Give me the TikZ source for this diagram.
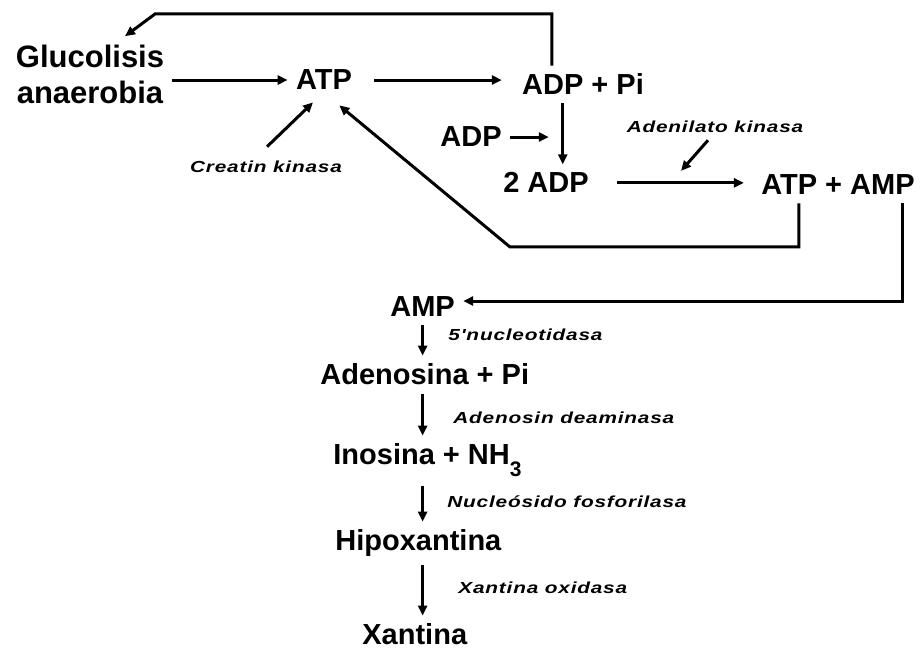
\documentclass[tikz,border=0pt]{standalone}
\usepackage{fontspec}
\setmainfont{Liberation Sans}
\newfontfamily\enzfont[LetterSpace=5,FakeStretch=1.3]{Liberation Sans}
\usetikzlibrary{arrows.meta,calc,positioning}
\tikzset{
  every picture/.style={draw=black, text=black},
  met/.style={font=\bfseries\fontsize{14.5}{17}\selectfont, inner sep=4pt},
  enz/.style={font=\enzfont\bfseries\itshape\fontsize{8}{10}\selectfont, inner sep=2pt},
  arr/.style={line width=1.5pt, -{Triangle[length=5pt,width=4.5pt]}},
}

\begin{document}
\begin{tikzpicture}[x=0.5pt, y=-0.5pt]
\useasboundingbox (0,0) rectangle (922,651);
% Metabolites
\node[met, font=\bfseries\fontsize{15.5}{18}\selectfont, align=center] (gluc) at (90,74) {Glucolisis\\anaerobia};
\node[met, anchor=base] (atp) at (324,90) {ATP};
\node[met, anchor=base] (adppi) at (583,95) {ADP + Pi};
\node[met, anchor=base] (adp) at (471,147) {ADP};
\node[met, anchor=base] (adp2) at (546,193) {2 ADP};
\node[met, anchor=base] (atpamp) at (838,195) {ATP + AMP};
\node[met, anchor=base west] (amp) at (382,317) {AMP};
\node[met, anchor=base west] (aden) at (312,385) {Adenosina + Pi};
\node[met, anchor=base west] (inos) at (325,465) {Inosina + NH\raisebox{-6pt}{\fontsize{10.5}{12}\selectfont 3}};
\node[met, anchor=base west] (hipo) at (327,551) {Hipoxantina};
\node[met, anchor=base west] (xant) at (354,645) {Xantina};
% Enzymes
\node[enz] (ck) at (266,167) {Creatin kinasa};
\node[enz] (adk) at (715,127) {Adenilato kinasa};
\node[enz, anchor=west] (nuc) at (444,335) {5'nucleotidasa};
\node[enz, anchor=west] (ada) at (449,418) {Adenosin deaminasa};
\node[enz, anchor=west] (pnp) at (443,502) {Nucleósido fosforilasa};
\node[enz, anchor=west] (xo) at (454,588) {Xantina oxidasa};
% Glycolysis and hydrolysis
\draw[arr] (gluc.east |- atp) -- (atp);
\draw[arr, shorten <=7pt, shorten >=6pt] (atp) -- (adppi.west |- atp);
% Feedback to glycolysis
\coordinate (topbend) at (155,14);
\draw[arr] ($(adppi.north west)+(38,0)$) |- (topbend) -- ($(gluc.north)+(35,0)$);
% Creatin kinase
\draw[arr] ($(ck.north)+(1,-10)$) -- ($(atp.south)+(-11,4)$);
% ADP condensation
\coordinate (vtop) at ($(adppi.south west)+(49,0)$);
\draw[arr] (vtop) -- (vtop |- adp2.north);
\draw[arr, shorten >=7pt] (adp) -- (adp -| vtop);
% Adenylate kinase
\draw[arr, shorten <=10pt, shorten >=4.5pt] (adp2) -- (atpamp.west |- adp2);
\coordinate (adkmid) at ($(adp2.east)!0.5!(atpamp.west |- adp2.east)$);
\draw[arr] ($(adk.south)+(-7,3)$) -- ($(adkmid)+(6,-12)$);
% ATP back
\coordinate (retbend) at (510,247);
\draw[arr] ($(atpamp.south west)+(46,0)$) |- (retbend) -- ($(atp.south east)+(-21,7)$);
% AMP degradation
\draw[arr] ($(atpamp.south east)+(-21,0)$) |- ([yshift=3pt]amp.east);
\draw[arr] (amp) -- (amp |- aden.north);
\draw[arr] (amp |- aden.south) -- (amp |- inos.north);
\draw[arr] (amp |- inos.south) -- (amp |- hipo.north);
\draw[arr] (amp |- hipo.south) -- (amp |- xant.north);
\end{tikzpicture}
\end{document}
